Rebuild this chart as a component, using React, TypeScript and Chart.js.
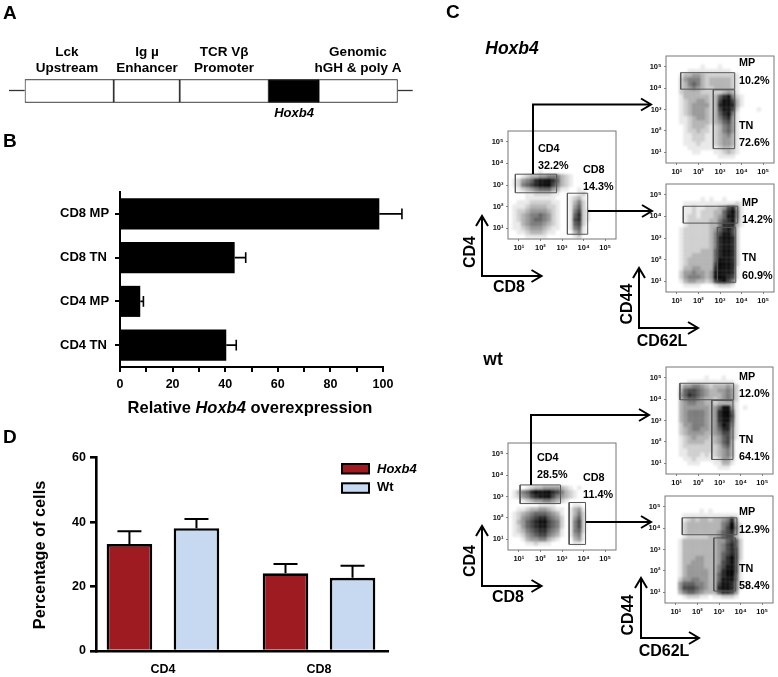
import React, { useEffect, useRef } from "react";
import { Chart, registerables } from "chart.js";

Chart.register(...registerables);

const W = 778;
const H = 677;
const FONT = '"Liberation Sans", Arial, sans-serif';

// ---------- Panel A: construct segments (relative lengths)
const constructSegments = [89, 66, 89, 50, 79];
const constructNames = ["Lck Upstream", "Ig µ Enhancer", "TCR Vβ Promoter", "Hoxb4", "Genomic hGH & poly A"];

// ---------- Panel B
const overexpressionCategories = ["CD8 MP", "CD8 TN", "CD4 MP", "CD4 TN"];
const overexpressionValues = [98.6, 43.6, 7.7, 40.4];
const overexpressionUpper = [107.2, 47.8, 8.9, 44.2];

// ---------- Panel D
const cellCategories = ["CD4", "CD8"];
const hoxb4Cells = [33.2, 24.1];
const hoxb4CellsUpper = [37.2, 27.0];
const wtCells = [38.1, 22.7];
const wtCellsUpper = [41.0, 26.5];

// ---------- Panel C: gates as [log10 xMin, log10 xMax, log10 yMin, log10 yMax]
const gatesHoxCd4Cd8 = [[0.84, 2.75, 2.64, 3.5], [3.25, 4.19, 0.72, 2.62]];
const gatesHoxCd4Sub = [[1.18, 3.68, 3.95, 4.72], [2.69, 3.68, 1.17, 3.92]];
const gatesHoxCd8Sub = [[1.3, 3.82, 3.69, 4.47], [2.88, 3.73, 0.95, 3.49]];
const gatesWtCd4Cd8 = [[1.06, 2.93, 2.67, 3.54], [3.33, 4.09, 0.76, 2.72]];
const gatesWtCd4Sub = [[1.15, 3.66, 3.97, 4.74], [2.64, 3.63, 1.18, 3.94]];
const gatesWtCd8Sub = [[1.3, 3.83, 3.69, 4.48], [2.76, 3.77, 1.06, 3.54]];

// Panel C: event density estimated by eye, one digit per 0.2-decade cell (0 = empty, 9 = darkest).
// Rows run from log10 y = 5.5 (top) to 0.5; columns from log10 x = 0.5 (left) to 5.5.
const densityHoxCd4Cd8 = [
  "0000000000000000000000000", "0000000000000000000000000", "0000000000000000000000000",
  "0000000000000000000000000", "0000000000000000000000000", "0000000000000000000000000",
  "0000000000000000000000000", "0000000000000000000000000", "0000000000000000000000000",
  "0000000100000000000000000", "0001233445553210000000000", "0124568999863210000000000",
  "0125678999753210000000000", "0012345666431100100000000", "0000112222110000120000000",
  "0000111111100012310000000", "0011122222110013520000000", "0111233332210014620000000",
  "0122344443210015721000000", "0123455654210016821000000", "0123456654210017821000000",
  "0113455543210016720000000", "0112344432110015610000000", "0011233321100003510000000",
  "0000111110000001200000000",
];
const densityHoxCd4Sub = [
  "0000000000000000000000000", "0000000000000000000000000", "0000000010001000000000000",
  "0000011111111110000000000", "0001334432222222100000000", "0002455532333332100000000",
  "0002356532333332100000000", "0002345432233332100000000", "0002333322222343100000000",
  "0001333333236895210000000", "0001233443237997310000000", "0001234444238998310000000",
  "0001234443237997200001000", "0001234443236895100000000", "0001123443235784100000000",
  "0001123333234674100000000", "0000123332123564100000000", "0000122322123564100000000",
  "0000112221123453100000000", "0000112221123443100000000", "0000111211123443100000000",
  "0000011111112332100000000", "0000001100011232100000000", "0000000000001111000000000",
  "0000000000000000000000000",
];
const densityHoxCd8Sub = [
  "0000000000000000000000000", "0000000000000000000000000", "0000000000000000000000000",
  "0000000010100100000000000", "0000111111111111210000000", "0000112112223478410000000",
  "0000112122233689510000000", "0000122122234699510000000", "0000122222335789410000000",
  "0000122222335888310000000", "0001222222346897200000000", "0001222222357997200000000",
  "0001222222358998200000000", "0001222222358998200000000", "0001222222358998200000000",
  "0001222233368998200000000", "0001223333368998200000000", "0001233333369998200000000",
  "0001233333379998200000000", "0001334433389998100000000", "0002445443499998100000000",
  "0002455543499987100000000", "0001344332378975000000000", "0000111100012221000000000",
  "0000000000000000000000000",
];
const densityWtCd4Cd8 = [
  "0000000000000000000000000", "0000000000000000000000000", "0000000000000000000000000",
  "0000000000000000000000000", "0000000000000000000000000", "0000000000000000000000000",
  "0000000000000000000000000", "0000000000000000000000000", "0000000000000000000000000",
  "0000000000000000000000000", "0000123344443210100000000", "0135689999875321000000000",
  "0124578999754321000000000", "0001234455432100000000000", "0000000111100001100000000",
  "0011233443211013410000000", "0123456665431013520000000", "0124567886542014620000000",
  "0134678997652015720000000", "0124678997652015720000000", "0123567886541015620000000",
  "0112456775431014510000000", "0001344553210003410000000", "0000112111000001100000000",
  "0000000000000000000000000",
];
const densityWtCd4Sub = [
  "0000000000000000000000000", "0000000000000000000000000", "0000000001000100000000000",
  "0000011111111111000000000", "0002445543233343200000000", "0003677654334454200000000",
  "0004687654333454200000000", "0003566543323454200000000", "0003455443323333100000000",
  "0003444444346994101000000", "0003455554348996100000000", "0003455554348997100000000",
  "0003455554348996100000000", "0002445554347985100000000", "0002345544346884100000000",
  "0002344443345774100000000", "0001234333234674100000000", "0001233332234673000000000",
  "0001222222223563000000000", "0001122222223453000000000", "0001122212123453000000000",
  "0000112111112442000000000", "0000011100011331000000000", "0000000000001110000000000",
  "0000000000000000000000000",
];
const densityWtCd8Sub = [
  "0000000000000000000000000", "0000000000000000000000000", "0000000000000000000000000",
  "0000000010100000000000000", "0000111111111111100000000", "0000123233233458300000000",
  "0000233333333569410000000", "0000233333333579510000000", "0000233333334678410000000",
  "0000122222334677310000000", "0001333333334467620000000", "0001333333334578620000000",
  "0001333333334578720000000", "0001333333334678720000000", "0001333443334689720000000",
  "0001334443334789710000000", "0001344443335799710000000", "0001344444335899710000000",
  "0001344444336899610000000", "0002445544336999610000000", "0004666554337998510000000",
  "0004777654338998510000000", "0003566543336887400000000", "0000122211011222100000000",
  "0000000000000000000000000",
];
const decades = [10, 100, 1000, 10000, 100000];
const decadeLabels = ["10¹", "10²", "10³", "10⁴", "10⁵"];

// ---------- layout (not data)
type Box = [number, number, number, number];
const flowPanels: { box: Box; density: string[]; gates: number[][] }[] = [
  { box: [508, 131, 616, 239], density: densityHoxCd4Cd8, gates: gatesHoxCd4Cd8 },
  { box: [666, 56, 774, 163], density: densityHoxCd4Sub, gates: gatesHoxCd4Sub },
  { box: [666, 184, 774, 292], density: densityHoxCd8Sub, gates: gatesHoxCd8Sub },
  { box: [508, 443, 616, 550], density: densityWtCd4Cd8, gates: gatesWtCd4Cd8 },
  { box: [666, 367, 773, 474], density: densityWtCd4Sub, gates: gatesWtCd4Sub },
  { box: [665, 496, 773, 603], density: densityWtCd8Sub, gates: gatesWtCd8Sub },
];

const HOX_RED = "#9E1B22";
const WT_BLUE = "#C6D9F1";

type Run = { t: string; i?: boolean };
type Label = { runs: Run[]; x: number; y: number; size: number; align?: CanvasTextAlign; rot?: boolean };
const L = (t: string, x: number, y: number, size: number, align: CanvasTextAlign = "left"): Label => ({ runs: [{ t }], x, y, size, align });
const LI = (t: string, x: number, y: number, size: number, align: CanvasTextAlign = "left"): Label => ({ runs: [{ t, i: true }], x, y, size, align });
const R = (t: string, x: number, y: number, size: number): Label => ({ runs: [{ t }], x, y, size, align: "center", rot: true });

const labels: Label[] = [
  L("A", 3, 14, 19), L("B", 3, 142, 19), L("C", 446, 13, 19), L("D", 3, 438, 19),
  L("Lck", 67, 52, 13.5, "center"), L("Upstream", 67, 68, 13.5, "center"),
  L("Ig µ", 147, 52, 13.5, "center"), L("Enhancer", 147, 68, 13.5, "center"),
  L("TCR Vβ", 224, 52, 13.5, "center"), L("Promoter", 224, 68, 13.5, "center"),
  L("Genomic", 358, 52, 13.5, "center"), L("hGH & poly A", 358, 68, 13.5, "center"),
  LI("Hoxb4", 294, 113, 13, "center"),
  { runs: [{ t: "Relative " }, { t: "Hoxb4", i: true }, { t: " overexpression" }], x: 250, y: 408, size: 16.5, align: "center" },
  R("Percentage of cells", 41, 555, 16.3),
  LI("Hoxb4", 377, 469, 13), L("Wt", 377, 487, 13),
  LI("Hoxb4", 512, 49, 17.5, "center"), L("wt", 493, 360, 17.5, "center"),
  L("CD4", 538, 149, 10.8), L("32.2%", 538, 166, 10.8), L("CD8", 583, 170, 10.8), L("14.3%", 583, 187, 10.8),
  L("MP", 739, 63, 10.8), L("10.2%", 739, 81, 10.8), L("TN", 739, 126, 10.8), L("72.6%", 739, 143, 10.8),
  L("MP", 742, 203, 10.8), L("14.2%", 742, 220, 10.8), L("TN", 742, 258, 10.8), L("60.9%", 742, 276, 10.8),
  L("CD4", 537, 458, 10.8), L("28.5%", 537, 475, 10.8), L("CD8", 583, 478, 10.8), L("11.4%", 583, 495, 10.8),
  L("MP", 739, 377, 10.8), L("12.0%", 739, 394, 10.8), L("TN", 739, 440, 10.8), L("64.1%", 739, 457, 10.8),
  L("MP", 739, 512, 10.8), L("12.9%", 739, 530, 10.8), L("TN", 739, 569, 10.8), L("58.4%", 739, 586, 10.8),
  R("CD4", 471, 252, 16), L("CD8", 509, 288, 16, "center"),
  R("CD44", 628, 304, 16), L("CD62L", 662, 342, 16, "center"),
  R("CD4", 471, 561, 16), L("CD8", 508, 598, 16, "center"),
  R("CD44", 629, 615, 16), L("CD62L", 664, 652, 16, "center"),
];

// polylines ending in an open arrow head: [x, y] vertices
const gateArrows: number[][][] = [
  [[533, 174], [533, 104.5], [651, 104.5]],
  [[588, 211], [652, 211]],
  [[531, 485], [531, 415], [649, 415]],
  [[586, 522], [651, 522]],
];
// axis corner arrows: [cornerX, cornerY, topY, rightX]
const axisArrows = [
  [482, 276, 216, 541.5],
  [639, 328, 268, 698],
  [482, 586, 526, 541.5],
  [641, 638, 578, 699],
];
const flankLines = [[9, 24.7, 90.5], [397.7, 412.7, 90.5]];

const head = (ctx: CanvasRenderingContext2D, x: number, y: number, dx: number, dy: number) => {
  const back = 10;
  const half = 6;
  ctx.beginPath();
  ctx.moveTo(x - dx * back - dy * half, y - dy * back - dx * half);
  ctx.lineTo(x, y);
  ctx.lineTo(x - dx * back + dy * half, y - dy * back + dx * half);
  ctx.stroke();
};

const overlayPlugin = {
  id: "overlay",
  afterDraw(chart: any) {
    const ctx: CanvasRenderingContext2D = chart.ctx;
    ctx.save();
    ctx.fillStyle = "#000";
    ctx.lineJoin = "miter";
    ctx.lineWidth = 1.3;
    ctx.strokeStyle = "#333";
    flankLines.forEach(([a, b, y]) => {
      ctx.beginPath();
      ctx.moveTo(a, y);
      ctx.lineTo(b, y);
      ctx.stroke();
    });
    ctx.strokeStyle = "#000";
    ctx.lineWidth = 2;
    gateArrows.forEach((pts) => {
      ctx.beginPath();
      pts.forEach(([x, y], i) => (i ? ctx.lineTo(x, y) : ctx.moveTo(x, y)));
      ctx.stroke();
      const [a, b] = pts.slice(-2);
      head(ctx, b[0], b[1], Math.sign(b[0] - a[0]), Math.sign(b[1] - a[1]));
    });
    axisArrows.forEach(([cx, cy, top, right]) => {
      ctx.beginPath();
      ctx.moveTo(cx, top);
      ctx.lineTo(cx, cy);
      ctx.lineTo(right, cy);
      ctx.stroke();
      head(ctx, cx, top, 0, -1);
      head(ctx, right, cy, 1, 0);
    });
    // legend of panel D
    [[464, HOX_RED], [483.3, WT_BLUE]].forEach(([y, c]: any) => {
      ctx.fillStyle = c;
      ctx.strokeStyle = "#000";
      ctx.lineWidth = 2;
      ctx.fillRect(342, y, 27, 9.5);
      ctx.strokeRect(342, y, 27, 9.5);
    });
    ctx.fillStyle = "#000";
    ctx.textBaseline = "middle";
    labels.forEach((l) => {
      ctx.save();
      ctx.translate(l.x, l.y);
      if (l.rot) ctx.rotate(-Math.PI / 2);
      const fontOf = (r: Run) => `${r.i ? "italic " : ""}bold ${l.size}px ${FONT}`;
      const total = l.runs.reduce((s, r) => {
        ctx.font = fontOf(r);
        return s + ctx.measureText(r.t).width;
      }, 0);
      let x = l.align === "center" ? -total / 2 : 0;
      ctx.textAlign = "left";
      l.runs.forEach((r) => {
        ctx.font = fontOf(r);
        ctx.fillText(r.t, x, 0);
        x += ctx.measureText(r.t).width;
      });
      ctx.restore();
    });
    ctx.restore();
  },
};

const areaLayout = (l: number, t: number, r: number, b: number, yW = 0, xH = 0) => ({
  autoPadding: false,
  padding: { left: l - yW, top: t, right: W - r, bottom: H - b - xH },
});

const base = {
  responsive: false,
  animation: false as const,
  devicePixelRatio: 1,
  events: [] as string[],
  plugins: { legend: { display: false }, tooltip: { enabled: false }, title: { display: false } },
};

const fixW = (w: number) => (s: any) => { s.width = w; };
const fixH = (h: number) => (s: any) => { s.height = h; };

const constructConfig = () => ({
  type: "bar",
  data: {
    labels: ["construct"],
    datasets: constructSegments.map((v, i) => ({
      label: constructNames[i],
      data: [v],
      backgroundColor: constructNames[i] === "Hoxb4" ? "#000" : "#fff",
      borderColor: constructNames[i] === "Hoxb4" ? "#000" : "#333",
      borderWidth: 1.2,
      borderSkipped: false,
      barPercentage: 1,
      categoryPercentage: 1,
    })),
  },
  options: {
    ...base,
    indexAxis: "y",
    layout: areaLayout(24.7, 79.3, 397.7, 102.7),
    scales: {
      x: { display: false, stacked: true, min: 0, max: constructSegments.reduce((a, b) => a + b, 0) },
      y: { display: false, stacked: true },
    },
  },
});

const hErrPlugin = {
  id: "hErr",
  afterDatasetsDraw(chart: any) {
    const { ctx, scales } = chart;
    ctx.save();
    ctx.strokeStyle = "#000";
    ctx.lineWidth = 1.6;
    overexpressionValues.forEach((v, i) => {
      const y = scales.y.getPixelForValue(i);
      const a = scales.x.getPixelForValue(v);
      const b = scales.x.getPixelForValue(overexpressionUpper[i]);
      ctx.beginPath();
      ctx.moveTo(a, y);
      ctx.lineTo(b, y);
      ctx.moveTo(b, y - 5.3);
      ctx.lineTo(b, y + 5.3);
      ctx.stroke();
    });
    ctx.restore();
  },
};

const overexpressionConfig = () => ({
  type: "bar",
  data: {
    labels: overexpressionCategories,
    datasets: [{ data: overexpressionValues, backgroundColor: "#000", barPercentage: 0.71, categoryPercentage: 1 }],
  },
  options: {
    ...base,
    indexAxis: "y",
    layout: areaLayout(120, 192, 383, 367, 60, 26),
    scales: {
      x: {
        min: 0,
        max: 100,
        afterFit: fixH(26),
        border: { color: "#000", width: 2 },
        grid: { drawOnChartArea: false, tickLength: 5, tickColor: "#000", lineWidth: 2 },
        ticks: {
          stepSize: 10,
          autoSkip: false,
          maxRotation: 0,
          padding: 5,
          color: "#000",
          font: { family: FONT, weight: "bold", size: 12.5 },
          callback: (v: number) => (v % 20 === 0 ? String(v) : ""),
        },
      },
      y: {
        afterFit: fixW(60),
        border: { color: "#000", width: 2 },
        grid: { drawOnChartArea: false, tickLength: 5, tickColor: "#000", lineWidth: 2, offset: false },
        ticks: { crossAlign: "far", color: "#000", font: { family: FONT, weight: "bold", size: 13 } },
      },
    },
  },
});

const vErrPlugin = {
  id: "vErr",
  afterDatasetsDraw(chart: any) {
    const { ctx, scales } = chart;
    ctx.save();
    ctx.strokeStyle = "#000";
    ctx.lineWidth = 2;
    chart.data.datasets.forEach((ds: any, d: number) => {
      const meta = chart.getDatasetMeta(d);
      ds.upper.forEach((u: number, i: number) => {
        const x = meta.data[i].x;
        const a = scales.y.getPixelForValue(ds.data[i].y);
        const b = scales.y.getPixelForValue(u);
        ctx.beginPath();
        ctx.moveTo(x, a);
        ctx.lineTo(x, b);
        ctx.moveTo(x - 12, b);
        ctx.lineTo(x + 12, b);
        ctx.stroke();
      });
    });
    ctx.restore();
  },
};

const cellsConfig = () => {
  const ds = (label: string, vals: number[], upper: number[], color: string) => ({
    label,
    data: vals.map((y, x) => ({ x, y })),
    upper,
    backgroundColor: color,
    borderColor: "#000",
    borderWidth: 2.6,
    borderSkipped: "bottom",
    barPercentage: 0.68,
    categoryPercentage: 0.859,
  });
  return {
    type: "bar",
    data: {
      datasets: [ds("Hoxb4", hoxb4Cells, hoxb4CellsUpper, HOX_RED), ds("Wt", wtCells, wtCellsUpper, WT_BLUE)],
    },
    options: {
      ...base,
      layout: areaLayout(96, 457.7, 388, 651, 46, 26),
      scales: {
        x: {
          type: "linear",
          offset: false,
          min: -0.429,
          max: 1.442,
          afterFit: fixH(26),
          afterBuildTicks: (s: any) => { s.ticks = cellCategories.map((_, value) => ({ value })); },
          border: { color: "#000", width: 2.6 },
          grid: { display: true, drawOnChartArea: false, drawTicks: false, offset: false },
          ticks: {
            autoSkip: false,
            maxRotation: 0,
            padding: 11,
            color: "#000",
            font: { family: FONT, weight: "bold", size: 12.5 },
            callback: (v: number) => cellCategories[v] ?? "",
          },
        },
        y: {
          min: 0,
          max: 60,
          afterFit: fixW(46),
          border: { color: "#000", width: 2.6 },
          grid: { drawOnChartArea: false, tickLength: 6, tickColor: "#000", lineWidth: 2.6 },
          ticks: { stepSize: 20, padding: 4, color: "#000", font: { family: FONT, weight: "bold", size: 12.5 } },
        },
      },
    },
  };
};

const flowFrame = {
  id: "flowFrame",
  afterDraw(chart: any) {
    const { ctx, chartArea: a } = chart;
    ctx.save();
    ctx.strokeStyle = "#777";
    ctx.lineWidth = 1;
    ctx.strokeRect(a.left, a.top, a.right - a.left, a.bottom - a.top);
    ctx.restore();
  },
};

const logAxis = (fit: any, visible: boolean) => ({
  type: "logarithmic",
  min: 10 ** 0.5,
  max: 10 ** 5.5,
  ...fit,
  afterBuildTicks: (s: any) => { s.ticks = decades.map((value) => ({ value, major: true })); },
  border: { display: false },
  grid: { drawOnChartArea: false, tickLength: 2, tickColor: visible ? "#666" : "transparent", lineWidth: 0.8 },
  ticks: {
    autoSkip: false,
    maxRotation: 0,
    padding: 2.5,
    color: visible ? "#111" : "transparent",
    font: { family: FONT, weight: "bold", size: 7.5 },
    callback: (v: number) => (visible ? decadeLabels[decades.indexOf(v)] ?? "" : ""),
  },
});

// the soft density cloud: one square per estimated cell, kept on its own softened layer
const flowDensityConfig = (p: (typeof flowPanels)[number]) => {
  const points: { x: number; y: number }[] = [];
  const colors: string[] = [];
  p.density.forEach((row, r) => {
    [...row].forEach((ch, c) => {
      const level = Number(ch);
      if (!level) return;
      points.push({ x: 10 ** (0.6 + 0.2 * c), y: 10 ** (5.4 - 0.2 * r) });
      colors.push(`rgba(0,0,0,${(0.98 * (level / 9) ** 1.1).toFixed(3)})`);
    });
  });
  const [l, t, r, b] = p.box;
  return {
    type: "scatter",
    data: {
      datasets: [
        { data: points, pointStyle: "rect", pointRadius: 3.06, pointBorderWidth: 0, pointBackgroundColor: colors, showLine: false },
      ],
    },
    options: {
      ...base,
      layout: areaLayout(l, t, r, b, 22, 18),
      scales: { x: logAxis({ afterFit: fixH(18) }, false), y: logAxis({ afterFit: fixW(22) }, false) },
    },
  };
};

// the crisp frame, ticks and gates over the cloud
const flowGateConfig = (p: (typeof flowPanels)[number]) => {
  const gateDs = p.gates.map(([x0, x1, y0, y1]) => ({
    showLine: true,
    borderColor: "#555",
    borderWidth: 1,
    pointRadius: 0,
    data: [
      { x: 10 ** x0, y: 10 ** y0 },
      { x: 10 ** x1, y: 10 ** y0 },
      { x: 10 ** x1, y: 10 ** y1 },
      { x: 10 ** x0, y: 10 ** y1 },
      { x: 10 ** x0, y: 10 ** y0 },
    ],
  }));
  const [l, t, r, b] = p.box;
  return {
    type: "scatter",
    data: { datasets: gateDs },
    options: {
      ...base,
      layout: areaLayout(l, t, r, b, 22, 18),
      scales: { x: logAxis({ afterFit: fixH(18) }, true), y: logAxis({ afterFit: fixW(22) }, true) },
    },
  };
};

const overlayConfig = () => ({
  type: "scatter",
  data: { datasets: [] },
  options: { ...base, scales: { x: { display: false }, y: { display: false } } },
});

const configs: { make: () => any; plugins: any[]; soft?: boolean }[] = [
  { make: constructConfig, plugins: [] },
  { make: overexpressionConfig, plugins: [hErrPlugin] },
  { make: cellsConfig, plugins: [vErrPlugin] },
  ...flowPanels.map((p) => ({ make: () => flowDensityConfig(p), plugins: [], soft: true })),
  ...flowPanels.map((p) => ({ make: () => flowGateConfig(p), plugins: [flowFrame] })),
  { make: overlayConfig, plugins: [overlayPlugin] },
];

function Layer({ make, plugins, soft }: { make: () => any; plugins: any[]; soft?: boolean }) {
  const ref = useRef<HTMLCanvasElement>(null);
  useEffect(() => {
    const chart = new Chart(ref.current as HTMLCanvasElement, { ...make(), plugins });
    return () => chart.destroy();
  }, []);
  return (
    <canvas
      ref={ref}
      width={W}
      height={H}
      style={{ position: "absolute", left: 0, top: 0, width: W, height: H, filter: soft ? "blur(1.1px)" : undefined }}
    />
  );
}

export default function App() {
  return (
    <div style={{ position: "absolute", left: 0, top: 0, width: W, height: H, overflow: "hidden", background: "#fff" }}>
      {configs.map((c, i) => (
        <Layer key={i} make={c.make} plugins={c.plugins} soft={c.soft} />
      ))}
    </div>
  );
}
